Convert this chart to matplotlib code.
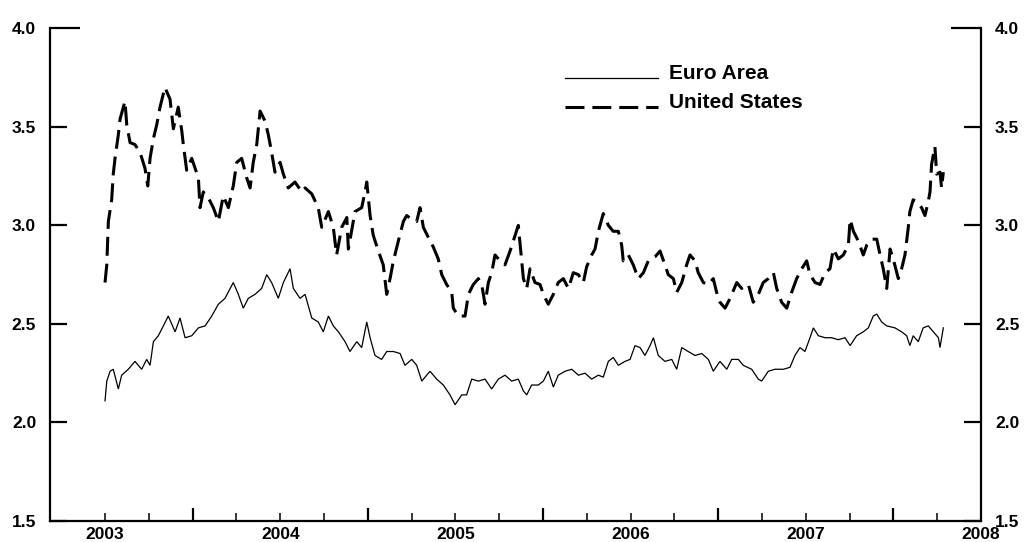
import matplotlib
matplotlib.use("Agg")
import matplotlib.pyplot as plt
from matplotlib.ticker import FixedLocator, FuncFormatter
from matplotlib.transforms import Affine2D

plt.rcParams['font.family'] = ['Liberation Sans', 'DejaVu Sans']

# United States (dashed) -- decimal year, value
us_dates = [2003.000, 2003.010, 2003.019, 2003.038, 2003.047, 2003.057, 2003.076, 2003.086, 2003.114, 2003.124,
            2003.143, 2003.171, 2003.200, 2003.228, 2003.244, 2003.257, 2003.276, 2003.295, 2003.314, 2003.342,
            2003.371, 2003.390, 2003.418, 2003.438, 2003.447, 2003.466, 2003.495, 2003.514, 2003.533, 2003.542,
            2003.561, 2003.590, 2003.618, 2003.647, 2003.675, 2003.704, 2003.732, 2003.752, 2003.780, 2003.809,
            2003.828, 2003.846, 2003.866, 2003.885, 2003.913, 2003.932, 2003.951, 2003.970, 2003.999, 2004.018,
            2004.046, 2004.084, 2004.123, 2004.142, 2004.180, 2004.217, 2004.237, 2004.275, 2004.303, 2004.322,
            2004.351, 2004.380, 2004.389, 2004.427, 2004.465, 2004.484, 2004.494, 2004.513, 2004.531, 2004.560,
            2004.588, 2004.608, 2004.627, 2004.646, 2004.674, 2004.703, 2004.722, 2004.751, 2004.779, 2004.798,
            2004.817, 2004.845, 2004.874, 2004.902, 2004.922, 2004.950, 2004.979, 2004.988, 2005.017, 2005.055,
            2005.074, 2005.102, 2005.131, 2005.150, 2005.169, 2005.188, 2005.207, 2005.226, 2005.255, 2005.283,
            2005.312, 2005.330, 2005.359, 2005.378, 2005.388, 2005.407, 2005.426, 2005.454, 2005.483, 2005.502,
            2005.530, 2005.559, 2005.587, 2005.616, 2005.645, 2005.673, 2005.702, 2005.730, 2005.749, 2005.778,
            2005.797, 2005.816, 2005.844, 2005.873, 2005.901, 2005.930, 2005.949, 2005.958, 2005.987, 2006.015,
            2006.044, 2006.073, 2006.101, 2006.139, 2006.168, 2006.196, 2006.215, 2006.244, 2006.263, 2006.292,
            2006.320, 2006.339, 2006.368, 2006.386, 2006.415, 2006.444, 2006.472, 2006.491, 2006.510, 2006.539,
            2006.568, 2006.606, 2006.634, 2006.672, 2006.700, 2006.729, 2006.757, 2006.786, 2006.815, 2006.834,
            2006.862, 2006.891, 2006.919, 2006.948, 2006.977, 2007.005, 2007.024, 2007.053, 2007.081, 2007.110,
            2007.138, 2007.157, 2007.186, 2007.214, 2007.243, 2007.253, 2007.272, 2007.300, 2007.328, 2007.348,
            2007.376, 2007.405, 2007.424, 2007.442, 2007.462, 2007.481, 2007.499, 2007.528, 2007.547, 2007.566,
            2007.585, 2007.594, 2007.613, 2007.633, 2007.661, 2007.680, 2007.699, 2007.709, 2007.718, 2007.737,
            2007.747, 2007.766, 2007.775, 2007.785]
us_values = [2.71, 2.80, 3.02, 3.13, 3.26, 3.34, 3.46, 3.54, 3.63, 3.51,
             3.42, 3.41, 3.37, 3.29, 3.20, 3.34, 3.44, 3.51, 3.60, 3.70,
             3.64, 3.49, 3.60, 3.48, 3.41, 3.28, 3.34, 3.29, 3.24, 3.09,
             3.17, 3.14, 3.09, 3.02, 3.15, 3.09, 3.20, 3.32, 3.34, 3.24,
             3.19, 3.32, 3.41, 3.58, 3.53, 3.46, 3.37, 3.27, 3.32, 3.26,
             3.19, 3.22, 3.17, 3.19, 3.16, 3.09, 2.99, 3.07, 2.99, 2.85,
             2.99, 3.04, 2.88, 3.07, 3.09, 3.17, 3.22, 3.05, 2.95, 2.87,
             2.80, 2.65, 2.73, 2.82, 2.92, 3.02, 3.05, 3.03, 3.02, 3.09,
             2.99, 2.94, 2.89, 2.83, 2.75, 2.70, 2.66, 2.58, 2.54, 2.54,
             2.65, 2.70, 2.73, 2.70, 2.60, 2.71, 2.76, 2.85, 2.82, 2.80,
             2.87, 2.92, 3.00, 2.82, 2.73, 2.68, 2.78, 2.71, 2.70, 2.65,
             2.60, 2.65, 2.71, 2.73, 2.68, 2.76, 2.75, 2.71, 2.79, 2.85,
             2.88, 2.97, 3.06, 3.00, 2.97, 2.97, 2.90, 2.82, 2.85, 2.80,
             2.73, 2.76, 2.82, 2.84, 2.87, 2.80, 2.75, 2.73, 2.66, 2.71,
             2.80, 2.85, 2.82, 2.76, 2.71, 2.70, 2.73, 2.66, 2.61, 2.58,
             2.63, 2.71, 2.68, 2.70, 2.61, 2.65, 2.71, 2.73, 2.76, 2.68,
             2.61, 2.58, 2.66, 2.73, 2.78, 2.82, 2.75, 2.71, 2.70, 2.76,
             2.78, 2.88, 2.83, 2.85, 2.90, 3.03, 2.97, 2.92, 2.85, 2.90,
             2.93, 2.93, 2.85, 2.78, 2.68, 2.88, 2.83, 2.73, 2.78, 2.85,
             2.99, 3.07, 3.13, 3.12, 3.09, 3.05, 3.12, 3.17, 3.31, 3.40,
             3.26, 3.27, 3.19, 3.27]

# Euro Area (solid) -- decimal year, value
ea_dates = [2003.000, 2003.010, 2003.029, 2003.047, 2003.076, 2003.095, 2003.133, 2003.171, 2003.209, 2003.238,
            2003.257, 2003.276, 2003.304, 2003.333, 2003.361, 2003.400, 2003.428, 2003.457, 2003.495, 2003.533,
            2003.571, 2003.609, 2003.647, 2003.685, 2003.732, 2003.761, 2003.789, 2003.818, 2003.856, 2003.894,
            2003.923, 2003.951, 2003.989, 2004.018, 2004.056, 2004.075, 2004.113, 2004.142, 2004.180, 2004.217,
            2004.246, 2004.275, 2004.303, 2004.332, 2004.370, 2004.398, 2004.437, 2004.465, 2004.494, 2004.513,
            2004.541, 2004.579, 2004.608, 2004.646, 2004.684, 2004.712, 2004.751, 2004.779, 2004.808, 2004.855,
            2004.893, 2004.931, 2004.969, 2004.998, 2005.036, 2005.064, 2005.093, 2005.131, 2005.169, 2005.207,
            2005.245, 2005.283, 2005.321, 2005.359, 2005.388, 2005.407, 2005.435, 2005.473, 2005.502, 2005.530,
            2005.559, 2005.587, 2005.626, 2005.664, 2005.702, 2005.740, 2005.778, 2005.816, 2005.844, 2005.873,
            2005.901, 2005.930, 2005.968, 2005.997, 2006.025, 2006.054, 2006.082, 2006.111, 2006.130, 2006.158,
            2006.196, 2006.235, 2006.263, 2006.292, 2006.329, 2006.368, 2006.406, 2006.444, 2006.472, 2006.510,
            2006.549, 2006.577, 2006.615, 2006.643, 2006.691, 2006.729, 2006.748, 2006.786, 2006.824, 2006.872,
            2006.910, 2006.938, 2006.967, 2006.995, 2007.024, 2007.043, 2007.072, 2007.110, 2007.148, 2007.186,
            2007.224, 2007.253, 2007.290, 2007.328, 2007.357, 2007.385, 2007.405, 2007.433, 2007.462, 2007.509,
            2007.547, 2007.576, 2007.594, 2007.613, 2007.642, 2007.670, 2007.699, 2007.728, 2007.757, 2007.766,
            2007.785]
ea_values = [2.11, 2.21, 2.26, 2.27, 2.17, 2.24, 2.27, 2.31, 2.27, 2.32,
             2.29, 2.41, 2.44, 2.49, 2.54, 2.46, 2.53, 2.43, 2.44, 2.48,
             2.49, 2.54, 2.60, 2.63, 2.71, 2.65, 2.58, 2.63, 2.65, 2.68,
             2.75, 2.71, 2.63, 2.71, 2.78, 2.68, 2.63, 2.65, 2.53, 2.51,
             2.46, 2.54, 2.49, 2.46, 2.41, 2.36, 2.41, 2.38, 2.51, 2.43,
             2.34, 2.32, 2.36, 2.36, 2.35, 2.29, 2.32, 2.29, 2.21, 2.26,
             2.22, 2.19, 2.14, 2.09, 2.14, 2.14, 2.22, 2.21, 2.22, 2.17,
             2.22, 2.24, 2.21, 2.22, 2.16, 2.14, 2.19, 2.19, 2.21, 2.26,
             2.18, 2.24, 2.26, 2.27, 2.24, 2.25, 2.22, 2.24, 2.23, 2.31,
             2.33, 2.29, 2.31, 2.32, 2.39, 2.38, 2.34, 2.39, 2.43, 2.34,
             2.31, 2.32, 2.27, 2.38, 2.36, 2.34, 2.35, 2.32, 2.26, 2.31,
             2.27, 2.32, 2.32, 2.29, 2.27, 2.22, 2.21, 2.26, 2.27, 2.27,
             2.28, 2.34, 2.38, 2.36, 2.43, 2.48, 2.44, 2.43, 2.43, 2.42,
             2.43, 2.39, 2.44, 2.46, 2.48, 2.54, 2.55, 2.51, 2.49, 2.48,
             2.46, 2.44, 2.39, 2.44, 2.41, 2.48, 2.49, 2.46, 2.43, 2.38,
             2.48]

series_labels = ["Euro Area", "United States"]
year_ticks = [2003, 2004, 2005, 2006, 2007, 2008]
y_ticks = [1.5, 2.0, 2.5, 3.0, 3.5, 4.0]

fig = plt.figure(figsize=(10.27, 5.42), dpi=100)
ax = fig.add_axes([0.0487, 0.0387, 0.9065, 0.9091])

ax.plot(ea_dates, ea_values, color='black', lw=0.9, solid_joinstyle='miter', label=series_labels[0])
ax.plot(us_dates, us_values, color='black', lw=2.2, linestyle=(0, (6.2, 2.6)), label=series_labels[1])

ax.set_xlim(2002.686, 2008.0)
ax.set_ylim(1.5, 4.0)

for s in ['left', 'right', 'bottom']:
    ax.spines[s].set_linewidth(1.6)
ax.spines['top'].set_visible(False)

# y axis ticks on both sides
ax.set_yticks(y_ticks)
ax.yaxis.set_major_formatter(FuncFormatter(lambda v, p: f"{v:.1f}"))
ax.tick_params(axis='y', which='major', direction='in', length=12, width=1.6,
               left=True, right=True, labelleft=True, labelright=True,
               labelsize=12.5, pad=10)
for lab in ax.get_yticklabels(which='both'):
    lab.set_fontweight('bold')
# longer tick at the top
for t in ax.yaxis.get_major_ticks():
    if abs(t.get_loc() - 4.0) < 1e-6:
        t.tick1line.set_markersize(21.5)
        t.tick2line.set_markersize(21.5)

# x axis: long ticks at half-years, short ticks at quarters, labels at years
half_years = [y + 0.5 for y in year_ticks[:-1]]
quarters = []
for y in year_ticks[:-1]:
    quarters += [y, y + 0.25, y + 0.75]
quarters.append(year_ticks[-1])
ax.xaxis.set_major_locator(FixedLocator(half_years))
ax.xaxis.set_minor_locator(FixedLocator(quarters))
ax.xaxis.set_major_formatter(FuncFormatter(lambda v, p: ""))
ax.xaxis.set_minor_formatter(FuncFormatter(lambda v, p: str(int(round(v))) if abs(v - round(v)) < 1e-6 else ""))
ax.tick_params(axis='x', which='major', direction='in', length=9.5, width=1.6, top=False)
ax.tick_params(axis='x', which='minor', direction='in', length=5.5, width=1.1, top=False,
               labelsize=12.5, pad=4)
for lab in ax.get_xticklabels(which='minor'):
    lab.set_fontweight('bold')

leg = ax.legend(loc='upper left', bbox_to_anchor=(0.553, 0.927), frameon=False,
                prop={'size': 15, 'weight': 'bold'}, handlelength=4.46, handletextpad=0.53,
                labelspacing=0.49, borderpad=0, borderaxespad=0)
for ln in leg.get_lines():
    ln.set_transform(ln.get_transform() + Affine2D().translate(0, -6))

fig.savefig("out.png", dpi=100)
